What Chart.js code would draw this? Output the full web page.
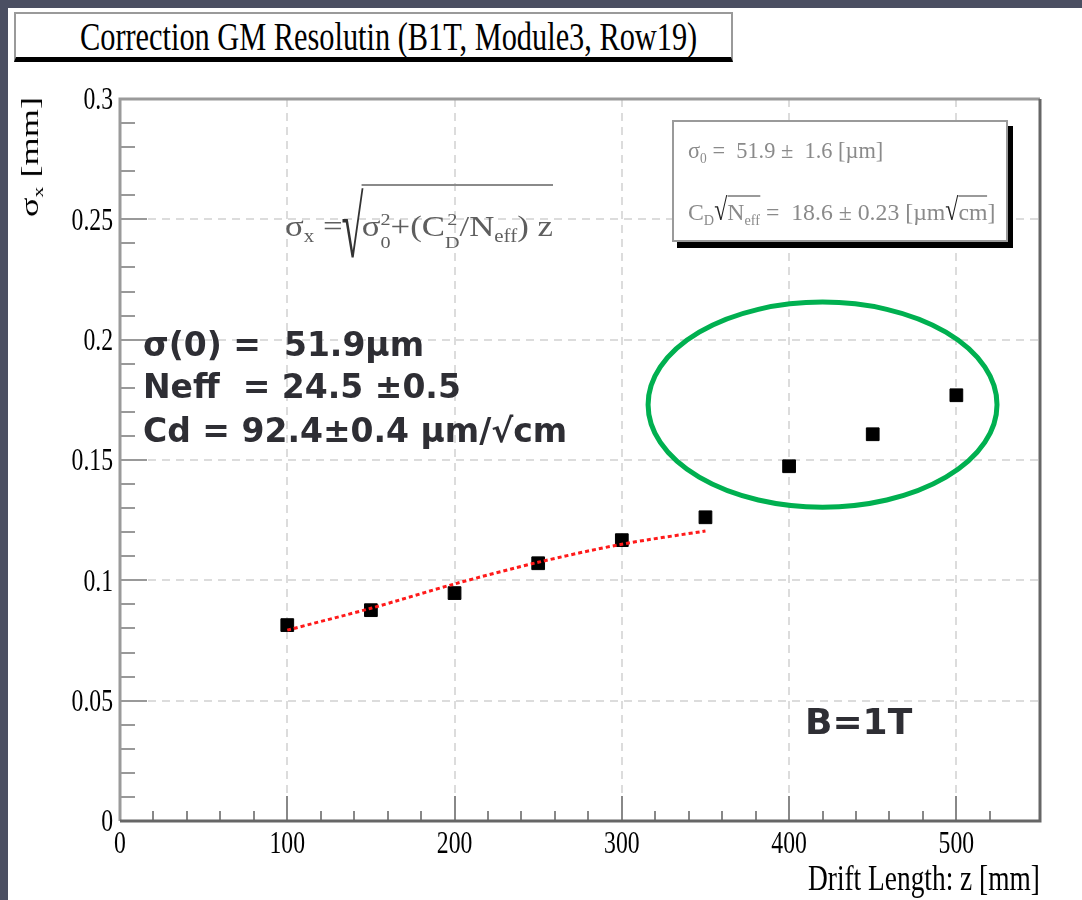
<!DOCTYPE html>
<html lang="en">
<head>
<meta charset="utf-8">
<title>Correction GM Resolutin (B1T, Module3, Row19)</title>
<script src="https://cdn.jsdelivr.net/npm/chart.js@4.4.1/dist/chart.umd.min.js"></script>
<style>
  html, body { margin: 0; padding: 0; background: #fff; }
  #page { position: relative; width: 1082px; height: 900px; overflow: hidden; background: #fff; }
  #page::before { content: ''; position: absolute; left: 0; top: 0; width: 8px; height: 900px; background: #4b4f62; z-index: 5; }
  #page::after { content: ''; position: absolute; left: 0; top: 0; width: 1082px; height: 8px; background: #4b4f62; z-index: 5; }
  #plot { position: absolute; left: 0; top: 0; }
  .txt { position: absolute; white-space: pre; line-height: 1; transform-origin: left top; }
  .serif { font-family: "Liberation Serif", "DejaVu Serif", serif; }
  .bold { font-family: "DejaVu Sans", Verdana, sans-serif; font-weight: bold; color: #2e2e34; font-size: 33px; }
  .txt sub { font-size: 0.6em; vertical-align: -0.35em; line-height: 0; }
  #titleBox { position: absolute; left: 14px; top: 12px; width: 715px; height: 43px;
    border: 2px solid #9a9a9a; border-bottom: 5px solid #000; background: #fff; }
  #statBox { position: absolute; left: 672px; top: 120px; width: 332px; height: 118px;
    border: 2px solid #9a9a9a; box-shadow: 5px 6px 0 0 #000; background: #fff; }
  #title { left: 80px; top: 17px; font-size: 39px; color: #000; }
  #formula { left: 285px; top: 208px; font-size: 30px; color: #5e5e5e; }
  #formula .rad { display: inline-block; transform: translateY(8px) scale(1.15, 2.9); transform-origin: 50% 60%; color: #333; }
  #formula .under { border-top: 2px solid #8a8a8a; padding-top: 23px; }
  #formula .ss { display: inline-block; font-size: 0.58em; line-height: 1.3; vertical-align: -12px; }
  #formula .ss span { display: block; text-align: center; }
  .stat { left: 688px; font-size: 24px; color: #8a8a8a; }
  .stat .sq { display: inline-block; transform: scaleY(1.3); transform-origin: 50% 80%; color: #222; }
  .stat .ov { border-top: 2px solid #9a9a9a; padding-top: 2px; }
  #stat1 { top: 138px; }
  #stat2 { top: 200px; }
  #xTitle { left: 808px; top: 860px; font-size: 36px; color: #000; }
  #yTitleAnchor { position: absolute; left: 30px; top: 157px; width: 0; height: 0; }
  #yTitle { position: absolute; left: 0; top: 0; white-space: pre; line-height: 1; font-size: 26px; color: #000; }
  #yTitle sub { font-size: 0.6em; vertical-align: -0.3em; line-height: 0; }
  #bfield { left: 805px; top: 704px; font-size: 36px; }
</style>
</head>
<body>
<div id="page">
  <canvas id="plot" width="1082" height="900"></canvas>

  <div id="titleBox"></div>
  <div id="title" class="txt serif" data-fit="617">Correction GM Resolutin (B1T, Module3, Row19)</div>

  <div id="statBox"></div>
  <div id="stat1" class="txt serif stat" data-fit="195">σ<sub>0</sub> =  51.9 ±  1.6 [µm]</div>
  <div id="stat2" class="txt serif stat" data-fit="307">C<sub>D</sub><span class="sq">√</span><span class="ov">N<sub>eff</sub></span> =  18.6 ± 0.23 [µm<span class="sq">√</span><span class="ov">cm</span>]</div>

  <div id="formula" class="txt serif" data-fit="268">σ<sub>x</sub> =<span class="rad">√</span><span class="under">σ<span class="ss"><span>2</span><span>0</span></span>+(C<span class="ss"><span>2</span><span>D</span></span>/N<sub>eff</sub>) z</span></div>

  <div id="yTitleAnchor"><span id="yTitle" class="serif">σ<sub>x</sub> [mm]</span></div>
  <div id="xTitle" class="txt serif" data-fit="232">Drift Length: z [mm]</div>

  <div class="txt bold" style="left:143px; top:328px;">σ(0) =  51.9µm</div>
  <div class="txt bold" style="left:143px; top:370px;">Neff  = 24.5 ±0.5</div>
  <div class="txt bold" style="left:143px; top:414px;">Cd = 92.4±0.4 µm/√cm</div>
  <div id="bfield" class="txt bold">B=1T</div>
</div>

<script>
// measured resolution per drift length (mm)
const driftLength = [100, 150, 200, 250, 300, 350, 400, 450, 500];
const sigmaX = [0.0814, 0.0876, 0.0947, 0.1071, 0.1167, 0.1262, 0.1474, 0.1607, 0.1769];

// fitted curve
const fitZ = [100, 150, 200, 250, 300, 350];
const fitSigma = [0.0793, 0.0884, 0.0985, 0.1075, 0.1150, 0.1205];

const xTickLabels = ['0', '100', '200', '300', '400', '500'];
const yTickLabels = ['0', '0.05', '0.1', '0.15', '0.2', '0.25', '0.3'];

const X_MAX = 550;
const Y_MAX = 0.3;

function isMajorX(v) { return Math.round(v) % 100 === 0; }
function isMajorY(v) { return Math.round(v * 100) % 5 === 0; }

// squeeze text horizontally like the old ROOT fonts
function fitWidth(el, target) {
  const w = el.offsetWidth;
  if (w > 0) el.style.transform = `scaleX(${target / w})`;
}

function condensedText(ctx, text, x, y, align, sx) {
  ctx.save();
  ctx.translate(x, y);
  ctx.scale(sx, 1);
  ctx.textAlign = align;
  ctx.textBaseline = 'middle';
  ctx.fillText(text, 0, 0);
  ctx.restore();
}

// frame, inward tick marks and tick labels
const axisFrame = {
  id: 'axisFrame',
  beforeDatasetsDraw(chart) {
    const { ctx, chartArea: a, scales: { x, y } } = chart;
    ctx.save();
    ctx.lineWidth = 2;
    ctx.strokeStyle = '#999';
    y.ticks.forEach(t => {
      const py = Math.round(y.getPixelForValue(t.value));
      const len = isMajorY(t.value) ? 27 : 15;
      ctx.beginPath();
      ctx.moveTo(a.left, py);
      ctx.lineTo(a.left + len, py);
      ctx.stroke();
    });
    ctx.strokeStyle = '#888';
    x.ticks.forEach(t => {
      if (Math.round(t.value) % 20 !== 0) return;
      const px = Math.round(x.getPixelForValue(t.value));
      const len = isMajorX(t.value) ? 25 : 10;
      ctx.beginPath();
      ctx.moveTo(px, a.bottom);
      ctx.lineTo(px, a.bottom - len);
      ctx.stroke();
    });

    ctx.lineWidth = 3;
    ctx.strokeStyle = '#9a9a9a';
    ctx.beginPath();
    ctx.moveTo(a.left, a.bottom);
    ctx.lineTo(a.left, a.top);
    ctx.lineTo(a.right, a.top);
    ctx.stroke();
    ctx.strokeStyle = '#666';
    ctx.beginPath();
    ctx.moveTo(a.right, a.top);
    ctx.lineTo(a.right, a.bottom);
    ctx.lineTo(a.left, a.bottom);
    ctx.stroke();
    ctx.restore();
  },
  afterDraw(chart) {
    const { ctx, scales: { x, y } } = chart;
    ctx.save();
    ctx.fillStyle = '#000';
    ctx.font = '32px "Liberation Serif"';
    yTickLabels.forEach(lbl => {
      condensedText(ctx, lbl, 113, y.getPixelForValue(parseFloat(lbl)) + 2, 'right', 0.74);
    });
    xTickLabels.forEach(lbl => {
      condensedText(ctx, lbl, x.getPixelForValue(parseFloat(lbl)), 845, 'center', 0.74);
    });
    ctx.restore();
  }
};

// green ring around the long-drift points
const ring = {
  id: 'ring',
  afterDatasetsDraw(chart) {
    const { ctx, scales: { x, y } } = chart;
    const cx = x.getPixelForValue(420);
    const cy = y.getPixelForValue(0.173);
    const rx = x.getPixelForValue(524.3) - cx;
    const ry = cy - y.getPixelForValue(0.2156);
    ctx.save();
    ctx.strokeStyle = '#00b050';
    ctx.lineWidth = 5;
    ctx.beginPath();
    ctx.ellipse(cx, cy, rx, ry, 0, 0, Math.PI * 2);
    ctx.stroke();
    ctx.restore();
  }
};

function gridColor(major, max) {
  return c => {
    const v = c.tick ? c.tick.value : 0;
    return major(v) && v > 0 && v < max - 1e-9 ? '#dcdcdc' : 'rgba(0,0,0,0)';
  };
}

new Chart(document.getElementById('plot'), {
  type: 'scatter',
  data: {
    datasets: [
      {
        label: 'fit',
        data: fitZ.map((z, i) => ({ x: z, y: fitSigma[i] })),
        showLine: true,
        borderColor: '#ff1a1a',
        borderWidth: 3,
        borderDash: [4, 3],
        pointRadius: 0,
        tension: 0.3,
        order: 0
      },
      {
        label: 'sigma_x',
        data: driftLength.map((z, i) => ({ x: z, y: sigmaX[i] })),
        pointStyle: 'rect',
        pointRadius: 9,
        pointBackgroundColor: '#000',
        pointBorderColor: '#000',
        pointBorderWidth: 1,
        showLine: false,
        order: 1
      }
    ]
  },
  options: {
    responsive: false,
    animation: false,
    devicePixelRatio: 1,
    layout: { padding: { left: 120, right: 42, top: 99, bottom: 79 } },
    plugins: { legend: { display: false }, tooltip: { enabled: false } },
    scales: {
      x: {
        type: 'linear', min: 0, max: X_MAX,
        afterFit(s) { s.height = 0; },
        ticks: { display: false, stepSize: 20, autoSkip: false },
        grid: { drawTicks: false, lineWidth: 2, color: gridColor(isMajorX, X_MAX) },
        border: { display: false, dash: [8, 6] }
      },
      y: {
        type: 'linear', min: 0, max: Y_MAX,
        afterFit(s) { s.width = 0; },
        ticks: { display: false, stepSize: 0.01, autoSkip: false },
        grid: { drawTicks: false, lineWidth: 2, color: gridColor(isMajorY, Y_MAX) },
        border: { display: false, dash: [8, 6] }
      }
    }
  },
  plugins: [axisFrame, ring]
});

document.querySelectorAll('[data-fit]').forEach(el => fitWidth(el, parseFloat(el.dataset.fit)));

const yTitle = document.getElementById('yTitle');
const ySx = 120 / yTitle.offsetWidth;
yTitle.style.transform = `translate(-50%, -50%) rotate(-90deg) scaleX(${ySx})`;
</script>
</body>
</html>
